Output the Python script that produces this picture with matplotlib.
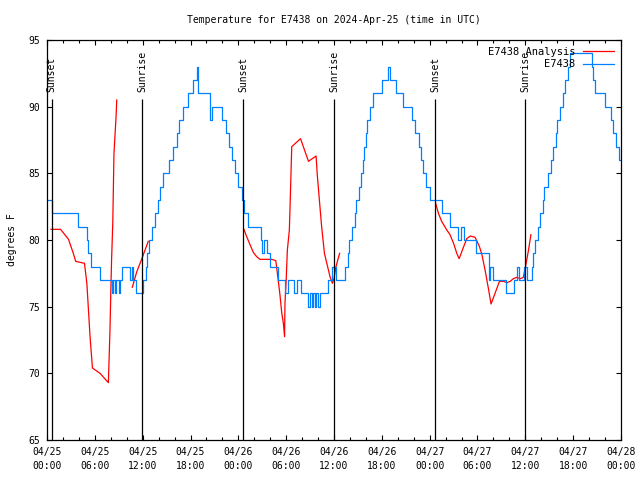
import numpy as np
import matplotlib
matplotlib.use('Agg')
import matplotlib.pyplot as plt

# hours since 2024-04-25 00:00 UTC
obs_hours = [0.0, 0.6, 3.9, 5.0, 5.2, 5.5, 6.6, 8.1, 8.3, 8.5, 8.7, 9.0, 9.2, 9.4,
             10.4, 10.6, 10.8, 11.2, 12.1, 12.4, 12.6, 12.8, 13.2, 13.6, 13.9, 14.2,
             14.6, 15.3, 15.8, 16.3, 16.6, 17.0, 17.7, 18.3, 18.8, 19.0, 20.5, 20.7,
             22.0, 22.4, 22.8, 23.2, 23.6, 24.0, 24.4, 24.7, 25.2, 26.8, 27.0, 27.2,
             27.6, 28.0, 29.0, 29.9, 30.2, 31.0, 31.3, 31.9, 32.8, 33.0, 33.2, 33.4,
             33.6, 33.8, 34.0, 34.2, 35.3, 35.7, 36.3, 37.4, 37.7, 37.9, 38.2, 38.6,
             38.8, 39.1, 39.4, 39.6, 39.8, 40.0, 40.2, 40.5, 40.9, 42.0, 42.8, 43.0,
             43.8, 44.7, 45.8, 46.2, 46.6, 46.9, 47.2, 47.6, 48.0, 49.5, 50.6, 51.6,
             51.9, 52.3, 53.8, 55.4, 55.6, 55.9, 57.6, 58.6, 58.9, 59.2, 59.8, 60.2,
             60.8, 61.0, 61.2, 61.6, 61.9, 62.2, 62.4, 62.9, 63.2, 63.5, 63.8, 64.0,
             64.4, 64.7, 65.0, 65.3, 65.6, 68.3, 68.5, 68.8, 70.0, 70.7, 71.0, 71.4,
             71.8, 72.0]
obs_temps = [83, 82, 81, 80, 79, 78, 77, 76, 77, 76, 77, 76, 77, 78,
             77, 78, 77, 76, 77, 78, 79, 80, 81, 82, 83, 84,
             85, 86, 87, 88, 89, 90, 91, 92, 93, 91, 89, 90,
             89, 88, 87, 86, 85, 84, 83, 82, 81, 80, 79, 80,
             79, 78, 77, 76, 77, 76, 77, 76, 75, 76, 75, 76,
             75, 76, 75, 76, 77, 78, 77, 78, 79, 80, 81, 82,
             83, 84, 85, 86, 87, 88, 89, 90, 91, 92, 93, 92,
             91, 90, 89, 88, 87, 86, 85, 84, 83, 82, 81, 80,
             81, 80, 79, 77, 78, 77, 76, 77, 78, 77, 78, 77,
             78, 79, 80, 81, 82, 83, 84, 85, 86, 87, 88, 89,
             90, 91, 92, 93, 94, 93, 92, 91, 90, 89, 88, 87,
             86, 86]

# analysis series, nan marks a gap
ana_hours = [0.5, 1.7, 2.7, 3.3, 3.6, 4.7, 5.0, 5.2, 5.4, 5.7, 6.65, 7.7, 7.9, 8.0,
             8.1, 8.25, 8.4, 8.65, 8.75, np.nan,
             10.7, 11.25, 11.9, 12.7, np.nan,
             24.7, 25.05, 25.5, 25.9, 26.3, 26.7, 28.2, 28.7, 29.0, 29.2, 29.45, 29.65,
             29.8, 29.85, 30.0, 30.15, 30.4, 30.5, 30.7, 31.8, 32.8, 33.75, 33.9, 34.25,
             34.45, 34.8, 35.1, 35.5, 35.8, 36.0, 36.25, 36.7, np.nan,
             48.75, 49.1, 49.5, 50.15, 50.55, 51.0, 51.4, 51.7, 52.2, 52.65, 53.1, 53.7,
             54.25, 54.55, 54.95, 55.4, 55.7, 56.2, 56.75, 57.25, 57.7, 58.1, 58.5, 58.9,
             59.4, 59.75, 60.1, 60.4, 60.7]
ana_temps = [80.8, 80.8, 80.05, 79.0, 78.4, 78.25, 76.75, 74.75, 72.75, 70.4, 70.0, 69.3, 73.25, 76.0,
             78.5, 81.25, 86.5, 89.1, 90.5, np.nan,
             76.45, 77.6, 78.6, 79.9, np.nan,
             80.8, 80.25, 79.6, 79.05, 78.75, 78.55, 78.55, 78.45, 77.0, 76.0, 74.5, 73.75,
             72.75, 75.25, 77.0, 79.25, 80.75, 82.75, 87.0, 87.6, 85.9, 86.3, 84.9, 82.4,
             81.0, 79.0, 78.25, 77.25, 76.75, 77.1, 78.0, 79.0, np.nan,
             82.75, 82.0, 81.4, 80.75, 80.4, 79.75, 79.0, 78.6, 79.4, 80.1, 80.3, 80.2,
             79.5, 78.9, 77.75, 76.25, 75.2, 76.0, 76.9, 76.9, 76.8, 76.9, 77.1, 77.2,
             77.1, 77.2, 78.25, 79.25, 80.4]

sun_hours = [0.58, 11.96, 24.63, 36.05, 48.72, 60.01]
sun_labels = ['Sunset', 'Sunrise', 'Sunset', 'Sunrise', 'Sunset', 'Sunrise']

tick_hours = list(range(0, 73, 6))
tick_labels = ['04/25\n00:00', '04/25\n06:00', '04/25\n12:00', '04/25\n18:00',
               '04/26\n00:00', '04/26\n06:00', '04/26\n12:00', '04/26\n18:00',
               '04/27\n00:00', '04/27\n06:00', '04/27\n12:00', '04/27\n18:00',
               '04/28\n00:00']

plt.rcParams['font.family'] = ['DejaVu Sans Mono']
plt.rcParams['font.size'] = 7

fig = plt.figure(figsize=(6.4, 4.8), dpi=100)
ax = fig.add_axes([47/640, 40/480, 574/640, 400/480])

lw = 0.9
ax.plot(ana_hours, ana_temps, color='#ff0000', linewidth=lw, label='E7438 Analysis')
ax.plot(obs_hours, obs_temps, color='#0080ff', linewidth=lw, drawstyle='steps-post', label='E7438')

ax.vlines(sun_hours, 65, 90.6, color='black', linewidth=lw)
for h, lab in zip(sun_hours, sun_labels):
    ax.text(h, 91.1, lab, rotation=90, ha='center', va='bottom', fontsize=7)

ax.set_xlim(0, 72)
ax.set_ylim(65, 95)
ax.set_xticks(tick_hours)
ax.set_xticklabels(tick_labels)
for lbl in ax.get_xticklabels():
    lbl.set_linespacing(1.45)
ax.set_xticks(np.arange(0, 73, 2), minor=True)
ax.set_yticks(range(65, 96, 5))
ax.tick_params(which='both', direction='in', top=True, right=True, width=0.8)
ax.tick_params(which='major', length=3.6, pad=5)
ax.tick_params(which='minor', length=2)
for s in ax.spines.values():
    s.set_linewidth(0.9)

ax.set_ylabel('degrees F', labelpad=8)
ax.set_title('Temperature for E7438 on 2024-Apr-25 (time in UTC)', fontsize=7, pad=12)

ax.legend(loc='upper right', frameon=False, markerfirst=False, handlelength=3.0,
          borderaxespad=0.25, labelspacing=0.25, handletextpad=0.7, fontsize=7.5)

plt.savefig('out.png', dpi=100)
plt.close()
